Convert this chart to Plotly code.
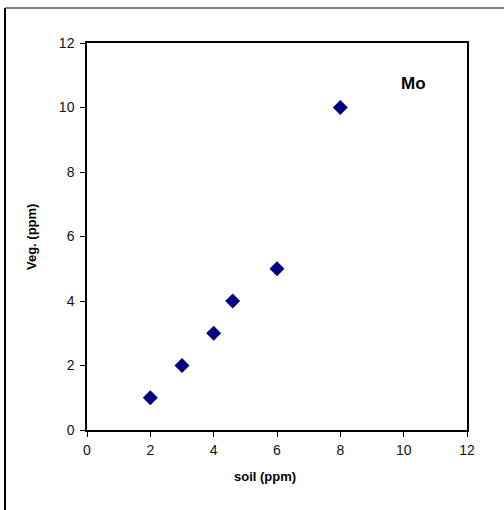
import plotly.graph_objects as go

# Mo concentration: soil vs. vegetation (ppm)
soil_ppm = [2, 3, 4, 4.6, 6, 8]
veg_ppm = [1, 2, 3, 4, 5, 10]
tick_vals = [0, 2, 4, 6, 8, 10, 12]

W, H = 504, 510
L, R, T, B = 87, 37, 43, 80
pw, ph = W - L - R, H - T - B
FONT = "Arial, Liberation Sans, Helvetica, sans-serif"


def px_to_paper(x, y):
    return (x - L) / pw, (H - B - y) / ph


fig = go.Figure()
fig.add_trace(go.Scatter(
    x=soil_ppm, y=veg_ppm, mode="markers",
    marker=dict(symbol="diamond", size=11.5, color="#000080",
                line=dict(width=0)),
    showlegend=False, cliponaxis=False,
))

axis_common = dict(
    range=[0, 12], tickvals=tick_vals, showgrid=False, zeroline=False,
    showline=True, linecolor="black", linewidth=1.5, mirror=True,
    ticks="outside", ticklen=5, tickcolor="black", tickwidth=1,
    tickfont=dict(family=FONT, size=14, color="#111111"),
)

fig.update_layout(
    width=W, height=H,
    margin=dict(l=L, r=R, t=T, b=B),
    paper_bgcolor="white", plot_bgcolor="white",
    xaxis=dict(**axis_common, ticklabelstandoff=1),
    yaxis=dict(**axis_common, ticklabelstandoff=3),
)

# axis titles and series label
sx, sy = px_to_paper(264.5, 476)
vx, vy = px_to_paper(32, 237)
fig.add_annotation(x=sx, y=sy, xref="paper", yref="paper", text="<b>soil (ppm)</b>",
                   showarrow=False, xanchor="center", yanchor="middle",
                   font=dict(family=FONT, size=13, color="black"))
fig.add_annotation(x=vx, y=vy, xref="paper", yref="paper", text="<b>Veg. (ppm)</b>",
                   showarrow=False, xanchor="center", yanchor="middle", textangle=-90,
                   font=dict(family=FONT, size=13, color="black"))
fig.add_annotation(x=10.3, y=10.75, xref="x", yref="y", text="<b>Mo</b>",
                   showarrow=False,
                   font=dict(family=FONT, size=17, color="black"))

# outer frame of the figure (left and top edges)
x0, y0 = px_to_paper(5, 8)
x1, y1 = px_to_paper(W + 5, H + 5)
fig.add_shape(type="line", xref="paper", yref="paper", x0=x0, y0=y0, x1=x1, y1=y0,
              line=dict(color="#808080", width=2))
fig.add_shape(type="line", xref="paper", yref="paper", x0=x0, y0=y0, x1=x0, y1=y1,
              line=dict(color="black", width=2))

fig.write_html("out.html")
